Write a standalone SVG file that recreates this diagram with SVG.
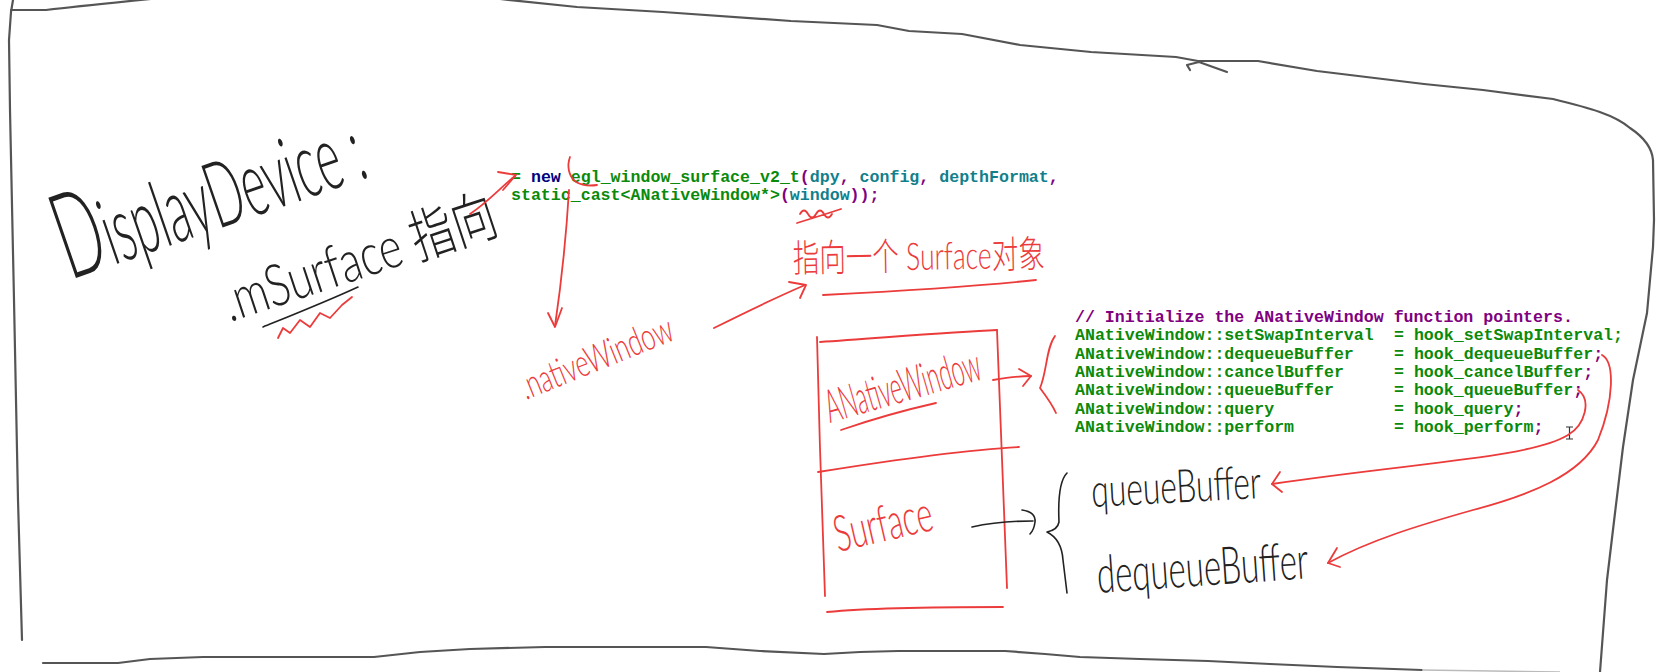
<svg xmlns="http://www.w3.org/2000/svg" width="1677" height="672" viewBox="0 0 1677 672">
<style>
.frame{fill:none;stroke:#555;stroke-width:2.2;stroke-linecap:round;stroke-linejoin:round}
.red{fill:none;stroke:#ec3b3b;stroke-width:1.8;stroke-linecap:round;stroke-linejoin:round}
.blk{fill:none;stroke:#222;stroke-width:1.6;stroke-linecap:round;stroke-linejoin:round}
.hand{font-family:Lato,"Liberation Sans","Noto Sans CJK SC",sans-serif;font-weight:300}
.hr{fill:#ec3b3b}
.hb{fill:#222}
.code{font-family:"Liberation Mono","Courier New",monospace;font-weight:bold;font-size:16.6px}
.g{fill:#0a8a0a}
.p{fill:#800080}
.t{fill:#127f8c}
.n{fill:#000080}
</style>

<g id="frame">
<path class="frame" d="M13,0 L11,12 L9,40 L10,110 L14,300 L18,500 L22,640"/>
<path class="frame" d="M11,10 L46,10 C80,6 120,2 160,-2"/>
<path class="frame" d="M500,-1 L577,7 L663,12 L791,21 L877,25 L909,31 L962,34 L1020,45 L1091,52 L1176,57 L1198,61 L1258,61 L1317,71 L1424,84 L1483,90 L1553,99 C1590,108 1615,115 1630,128 C1645,138 1652,148 1653,160 L1654,220 L1653,247 L1647,313 L1633,380 L1623,447 L1615,513 L1607,580 L1600,672"/>
<path class="frame" d="M1190,70 L1187,65 L1199,62 L1227,72"/>
<path class="frame" d="M43,663 L118,663 L150,659 L203,657 L374,657 L420,652 L470,649 L545,647 L706,647 L760,651 L824,654 L860,652 L898,651 L1005,651 L1045,654 L1080,657 L1140,659 L1208,661 L1270,664 L1337,667 L1422,670"/>
<path d="M1422,670 L1560,672" fill="none" stroke="#bbb" stroke-width="1.5"/>
</g>

<g id="display-device">
<text class="hand hb" transform="translate(70,280) rotate(-19)" font-size="92" textLength="318" lengthAdjust="spacingAndGlyphs"><tspan font-size="120">D</tspan>isplayDevice :</text>
</g>

<g id="msurface">
<text class="hand hb" transform="translate(230,322) rotate(-18.3)" font-size="58" textLength="285" lengthAdjust="spacingAndGlyphs">.mSurface 指向</text>
<path class="blk" d="M263,327 C295,314 330,300 358,287"/>
<path class="red" d="M278,338 L283,328 L290,333 L300,320 L310,327 L320,313 L330,318 L342,305 L352,297"/>
</g>

<g id="code-new">
<text class="code" x="511" y="182"><tspan class="g">=</tspan><tspan class="n"> new </tspan><tspan class="g">egl_window_surface_v2_t</tspan><tspan class="p">(</tspan><tspan class="t">dpy</tspan><tspan class="p">, </tspan><tspan class="t">config</tspan><tspan class="p">, </tspan><tspan class="t">depthFormat</tspan><tspan class="p">,</tspan></text>
<text class="code" x="511" y="200"><tspan class="g">static_cast&lt;ANativeWindow*&gt;</tspan><tspan class="p">(</tspan><tspan class="t">window</tspan><tspan class="p">));</tspan></text>
<path class="red" d="M800,214 q4,-7 8,0 q4,7 8,0 q4,-7 8,0 q4,7 8,0 M797,223 C810,219 826,214 841,209"/>
</g>

<g id="native-window">
<text class="hand hr" transform="translate(526,400) rotate(-22)" font-size="38" textLength="162" lengthAdjust="spacingAndGlyphs">.nativeWindow</text>
</g>

<g id="surface-object-label">
<text class="hand hr" transform="translate(793,272) rotate(-1)" font-size="38" textLength="252" lengthAdjust="spacingAndGlyphs">指向一个 Surface对象</text>
<path class="red" d="M823,295 C900,291 980,286 1036,280"/>
</g>

<g id="surface-box">
<path class="red" d="M817,337 C819,420 822,520 825,596"/>
<path class="red" d="M820,342 C880,338 950,332 997,330"/>
<path class="red" d="M997,330 C1000,420 1004,500 1007,588"/>
<path class="red" d="M818,472 C880,462 960,450 1019,447"/>
<path class="red" d="M827,612 C880,607 950,607 1003,607"/>
<text class="hand hr" transform="translate(830,423) rotate(-16)" font-size="46" textLength="160" lengthAdjust="spacingAndGlyphs">ANativeWindow</text>
<path class="red" d="M841,430 C870,420 905,410 936,403"/>
<text class="hand hr" transform="translate(838,552) rotate(-13)" font-size="50" textLength="100" lengthAdjust="spacingAndGlyphs">Surface</text>
</g>

<g id="function-pointers">
<text class="code p" x="1075" y="322">// Initialize the ANativeWindow function pointers.</text>
<text class="code g" x="1075" y="340.3">ANativeWindow::setSwapInterval</text>
<text class="code g" x="1075" y="358.6">ANativeWindow::dequeueBuffer</text>
<text class="code g" x="1075" y="376.9">ANativeWindow::cancelBuffer</text>
<text class="code g" x="1075" y="395.2">ANativeWindow::queueBuffer</text>
<text class="code g" x="1075" y="413.5">ANativeWindow::query</text>
<text class="code g" x="1075" y="431.8">ANativeWindow::perform</text>
<text class="code g" x="1394" y="340.3">= hook_setSwapInterval;</text>
<text class="code g" x="1394" y="358.6">= hook_dequeueBuffer<tspan class="p">;</tspan></text>
<text class="code g" x="1394" y="376.9">= hook_cancelBuffer<tspan class="p">;</tspan></text>
<text class="code g" x="1394" y="395.2">= hook_queueBuffer<tspan class="p">;</tspan></text>
<text class="code g" x="1394" y="413.5">= hook_query<tspan class="p">;</tspan></text>
<text class="code g" x="1394" y="431.8">= hook_perform<tspan class="p">;</tspan></text>
<path d="M1566,427 h7 M1569.5,427 v12 M1566,439 h7" fill="none" stroke="#333" stroke-width="1.2"/>
<path class="red" d="M1055,336 C1046,348 1047,372 1040,388 C1046,396 1052,404 1056,413"/>
</g>

<g id="surface-methods">
<path class="blk" d="M1067,473 C1060,480 1058,500 1059,522 C1058,528 1052,531 1047,532 C1055,536 1062,545 1063,560 L1067,593"/>
<text class="hand hb" transform="translate(1092,507) rotate(-3)" font-size="46" textLength="170" lengthAdjust="spacingAndGlyphs">queueBuffer</text>
<text class="hand hb" transform="translate(1098,593) rotate(-4)" font-size="52" textLength="212" lengthAdjust="spacingAndGlyphs">dequeueBuffer</text>
</g>

<g id="connectors">
<path class="red" d="M470,214 C488,202 500,188 515,176"/>
<path class="red" d="M498,172 L516,175 L503,190"/>
<path class="red" d="M570,157 C567,165 568,176 576,182 C583,186 590,186 597,185"/>
<path class="red" d="M569,190 C566,240 561,285 555,326"/>
<path class="red" d="M548,313 L555,327 L562,308"/>
<path class="red" d="M714,328 C740,315 775,298 805,285"/>
<path class="red" d="M789,282 L806,285 L800,298"/>
<path class="red" d="M993,380 C1005,378 1020,376 1031,376"/>
<path class="red" d="M1019,369 L1031,376 L1023,386"/>
<path class="blk" d="M972,527 C990,523 1010,521 1033,521"/>
<path class="blk" d="M1022,510 Q1036,512 1035,522 Q1034,530 1030,534"/>
<path class="red" d="M1578,390 C1592,400 1585,425 1568,435 C1530,458 1420,462 1272,484"/>
<path class="red" d="M1280,472 L1272,484 L1282,492"/>
<path class="red" d="M1602,355 C1615,362 1614,400 1598,440 C1580,475 1530,495 1473,510 C1420,525 1370,540 1328,563"/>
<path class="red" d="M1337,548 L1328,563 L1340,567"/>
</g>
</svg>
